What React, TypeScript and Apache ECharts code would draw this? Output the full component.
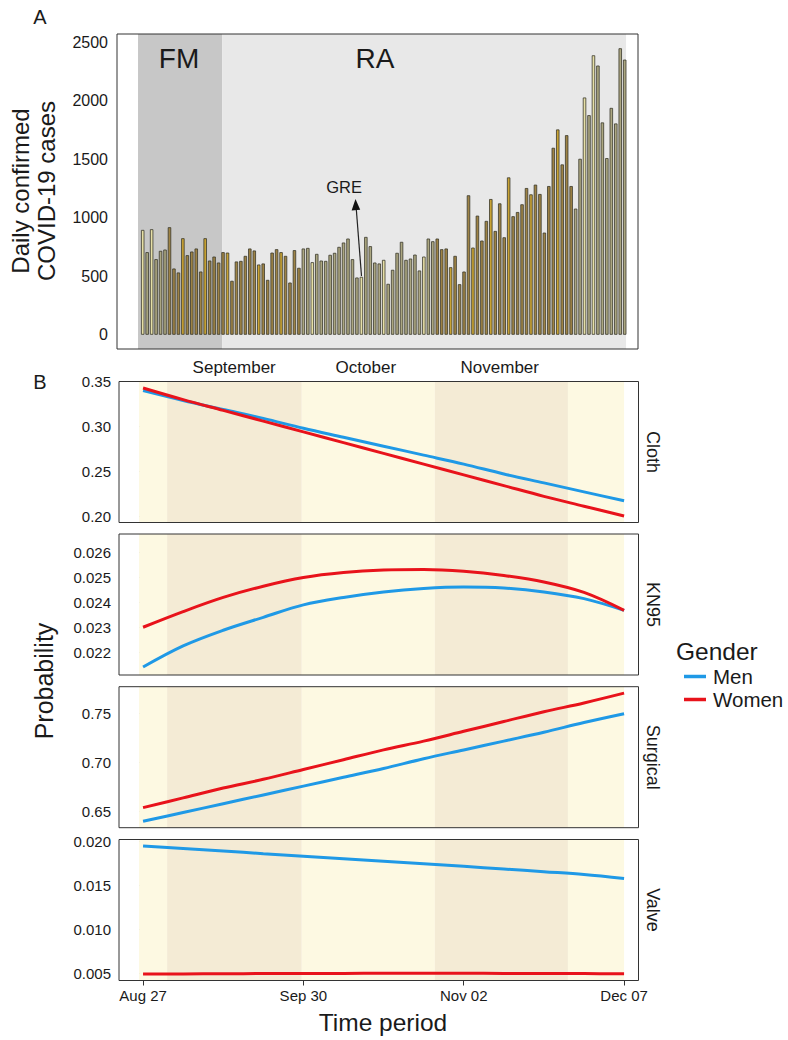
import React, { useEffect, useRef } from "react";
import * as echarts from "echarts";

const FONT = "'Liberation Sans', Arial, Helvetica, sans-serif";

// ---------- Panel A data ----------
// Daily confirmed cases, one bar per day starting Aug 27 (day index 0)
const dailyCases = [
  896, 706, 902, 646, 717, 728, 919, 566, 532, 825,
  680, 711, 737, 540, 825, 634, 668, 617, 706, 702,
  461, 626, 631, 674, 737, 720, 600, 609, 469, 702,
  731, 706, 674, 446, 723, 572, 737, 742, 620, 691,
  634, 631, 683, 700, 751, 788, 822, 646, 489, 495,
  836, 757, 617, 609, 640, 435, 555, 700, 794, 640,
  651, 685, 549, 668, 822, 799, 822, 731, 737, 577,
  674, 432, 540, 1192, 745, 1018, 805, 973, 1160, 887,
  1123, 833, 1345, 1013, 1049, 1115, 1254, 1200, 1283, 1203,
  873, 1271, 1598, 1755, 1456, 1706, 1271, 1078, 1504, 2028,
  1877, 2389, 2301, 1815, 1510, 1939, 1806, 2449, 2352,
];
// shade class of each bar: p = pale, o = olive, b = brown, g = gold
const barShades =
  "popooo" +
  "bbbgbbbbgbbbbgbbbbbbgbbbbgbbbb" +
  "oopoooooooooopoooopoooooooopoo" +
  "bbbgbbbbgbbbgbbbgbbbbgbbbbbgbbb" +
  "oopopooooooo";
const yTicksA = [0, 500, 1000, 1500, 2000, 2500];
const monthStartDays = [5, 35, 66, 96]; // Sep 1, Oct 1, Nov 1, Dec 1
const monthLabelDays = [20.5, 50, 80];
const monthNames = ["September", "October", "November"];
const phaseNames = ["FM", "RA"];
const phaseStart = [-1.05, 17.8];
const phaseEnd = [17.8, 108.3];

// ---------- Panel B data ----------
const periodTicks = [0, 1, 2, 3];
const periodLabels = ["Aug 27", "Sep 30", "Nov 02", "Dec 07"];
const sampleX = [0, 0.25, 0.5, 0.75, 1, 1.25, 1.5, 1.75, 2, 2.25, 2.5, 2.75, 3];
const bandEdges = [-0.025, 0.15, 0.99, 1.82, 2.65, 3.0];

const facetNames = ["Cloth", "KN95", "Surgical", "Valve"];
const clothMen = [0.340, 0.329, 0.319, 0.309, 0.298, 0.288, 0.278, 0.268, 0.258, 0.247, 0.237, 0.227, 0.217];
const clothWomen = [0.343, 0.330, 0.318, 0.306, 0.294, 0.282, 0.270, 0.258, 0.246, 0.234, 0.222, 0.211, 0.200];
const kn95Men = [0.02140, 0.02225, 0.02288, 0.02340, 0.02390, 0.02420, 0.02442, 0.02456, 0.02462, 0.02458, 0.02442, 0.02415, 0.02368];
const kn95Women = [0.02300, 0.02363, 0.02420, 0.02465, 0.02500, 0.02520, 0.02530, 0.02532, 0.02525, 0.02508, 0.02482, 0.02440, 0.02368];
const surgicalMen = [0.640, 0.649, 0.658, 0.667, 0.676, 0.685, 0.694, 0.704, 0.713, 0.722, 0.731, 0.741, 0.750];
const surgicalWomen = [0.654, 0.664, 0.674, 0.683, 0.693, 0.703, 0.713, 0.722, 0.732, 0.742, 0.752, 0.761, 0.771];
const valveMen = [0.01950, 0.01921, 0.01892, 0.01862, 0.01833, 0.01804, 0.01775, 0.01746, 0.01717, 0.01687, 0.01656, 0.01625, 0.01580];
const valveWomen = [0.00490, 0.00492, 0.00494, 0.00496, 0.00497, 0.00498, 0.00499, 0.00499, 0.00499, 0.00498, 0.00497, 0.00496, 0.00494];

const clothTicks = [0.20, 0.25, 0.30, 0.35];
const kn95Ticks = [0.022, 0.023, 0.024, 0.025, 0.026];
const surgicalTicks = [0.65, 0.70, 0.75];
const valveTicks = [0.005, 0.010, 0.015, 0.020];

function buildOption() {
  const shadeColor: Record<string, string> = {
    p: "#e6dfa6",
    o: "#aca781",
    b: "#9e8345",
    g: "#c9a334",
  };
  const BLUE = "#1f99e6";
  const RED = "#e8131b";
  const AX = "#333333";
  const TXT = "#1a1a1a";

  const facetMen = [clothMen, kn95Men, surgicalMen, valveMen];
  const facetWomen = [clothWomen, kn95Women, surgicalWomen, valveWomen];
  const facetTicks = [clothTicks, kn95Ticks, surgicalTicks, valveTicks];
  const facetDigits = [2, 3, 2, 3];
  const facetRange = [
    [0.1928, 0.3502],
    [0.02108, 0.02675],
    [0.6335, 0.7776],
    [0.00417, 0.02023],
  ];
  const facetTops = [381.5, 534, 686.7, 839.5];
  const facetH = 141;
  const gridBaseB = { left: 119, width: 519.5, height: facetH };
  const frame = {
    show: true,
    z: 10,
    backgroundColor: "rgba(0,0,0,0)",
    borderColor: AX,
    borderWidth: 1,
  };

  const grids: any[] = [
    { ...frame, left: 117, top: 34, width: 521, height: 315 },
    ...facetTops.map((t) => ({ ...frame, ...gridBaseB, top: t })),
  ];

  const xAxes: any[] = [
    {
      gridIndex: 0,
      type: "value",
      min: -5.76,
      max: 110.98,
      axisLine: { show: false },
      splitLine: { show: false },
      axisTick: {
        show: true,
        customValues: monthStartDays,
        length: 5,
        lineStyle: { color: AX, width: 1 },
      },
      axisLabel: {
        show: true,
        customValues: monthLabelDays,
        formatter: (v: number) => monthNames[monthLabelDays.indexOf(v)] ?? "",
        fontSize: 17,
        fontFamily: FONT,
        color: TXT,
        margin: 10,
      },
    },
  ];
  const yAxes: any[] = [
    {
      gridIndex: 0,
      type: "value",
      min: -122,
      max: 2571,
      axisLine: { show: false },
      splitLine: { show: false },
      axisTick: {
        show: true,
        customValues: yTicksA,
        length: 4,
        lineStyle: { color: AX, width: 1 },
      },
      axisLabel: {
        show: true,
        customValues: yTicksA,
        formatter: (v: number) => String(v),
        fontSize: 16,
        fontFamily: FONT,
        color: TXT,
        margin: 9,
      },
    },
  ];

  facetNames.forEach((_, i) => {
    const last = i === facetNames.length - 1;
    xAxes.push({
      gridIndex: i + 1,
      type: "value",
      min: -0.15,
      max: 3.09,
      axisLine: { show: false },
      splitLine: { show: false },
      axisTick: {
        show: last,
        customValues: periodTicks,
        length: 5,
        lineStyle: { color: AX, width: 1 },
      },
      axisLabel: {
        show: last,
        customValues: periodTicks,
        formatter: (v: number) => periodLabels[periodTicks.indexOf(v)] ?? "",
        fontSize: 15,
        fontFamily: FONT,
        color: TXT,
        margin: 7,
      },
    });
    const ticks = facetTicks[i];
    yAxes.push({
      gridIndex: i + 1,
      type: "value",
      min: facetRange[i][0],
      max: facetRange[i][1],
      axisLine: { show: false },
      splitLine: { show: false },
      axisTick: {
        show: true,
        customValues: ticks,
        length: 4,
        lineStyle: { color: AX, width: 1 },
      },
      axisLabel: {
        show: true,
        customValues: ticks,
        formatter: (v: number) => v.toFixed(facetDigits[i]),
        fontSize: 15,
        fontFamily: FONT,
        color: TXT,
        margin: 8,
      },
    });
  });

  const bandAreas: any[] = [];
  for (let k = 0; k < bandEdges.length - 1; k++) {
    bandAreas.push([
      { xAxis: bandEdges[k], itemStyle: { color: k % 2 === 0 ? "#fdf9e2" : "#f4ebd5" } },
      { xAxis: bandEdges[k + 1] },
    ]);
  }

  const series: any[] = [
    {
      type: "bar",
      name: "cases",
      xAxisIndex: 0,
      yAxisIndex: 0,
      barWidth: 3.4,
      data: dailyCases.map((v, i) => ({
        value: [i, v],
        itemStyle: {
          color: shadeColor[barShades[i]] || shadeColor.b,
          borderColor: "#3a382c",
          borderWidth: 0.8,
        },
      })),
      markArea: {
        silent: true,
        z: 1,
        data: phaseNames.map((_, k) => [
          { xAxis: phaseStart[k], itemStyle: { color: k === 0 ? "#c7c7c7" : "#e8e8e8" } },
          { xAxis: phaseEnd[k] },
        ]),
      },
    },
  ];

  facetNames.forEach((_, i) => {
    series.push({
      type: "line",
      name: "Men",
      xAxisIndex: i + 1,
      yAxisIndex: i + 1,
      showSymbol: false,
      smooth: 0.35,
      lineStyle: { width: 3, color: BLUE },
      itemStyle: { color: BLUE },
      z: 3,
      data: sampleX.map((x, k) => [x, facetMen[i][k]]),
      markArea: { silent: true, z: 1, data: bandAreas },
    });
    series.push({
      type: "line",
      name: "Women",
      xAxisIndex: i + 1,
      yAxisIndex: i + 1,
      showSymbol: false,
      smooth: 0.35,
      lineStyle: { width: 3, color: RED },
      itemStyle: { color: RED },
      z: 4,
      data: sampleX.map((x, k) => [x, facetWomen[i][k]]),
    });
  });

  const txt = (text: string, x: number, y: number, size: number, extra: any = {}) => ({
    type: "text",
    x,
    y,
    z: 20,
    ...extra,
    style: {
      text,
      fontSize: size,
      fontFamily: FONT,
      fill: TXT,
      align: "center",
      verticalAlign: "middle",
      ...(extra.style || {}),
    },
  });

  const graphics: any[] = [
    txt("A", 40, 17, 20),
    txt("B", 40, 382, 20),
    txt(phaseNames[0], 179, 58, 28),
    txt(phaseNames[1], 375, 58, 28),
    txt("GRE", 344, 187, 16.5),
    {
      type: "line",
      z: 20,
      shape: { x1: 361.5, y1: 276, x2: 356.2, y2: 208 },
      style: { stroke: "#222", lineWidth: 1.2 },
    },
    {
      type: "polygon",
      z: 20,
      shape: { points: [[355.5, 199], [351.6, 210.4], [360.2, 209.8]] },
      style: { fill: "#111" },
    },
    txt("Daily confirmed\nCOVID-19 cases", 33, 191, 24, {
      rotation: Math.PI / 2,
      style: { lineHeight: 26 },
    }),
    txt("Probability", 44, 681, 25, { rotation: Math.PI / 2 }),
    txt("Time period", 383, 1022, 24.5),
    txt("Gender", 676, 651, 24.5, { style: { align: "left" } }),
  ];
  facetNames.forEach((n, i) => {
    graphics.push(
      txt(n, 653, facetTops[i] + facetH / 2, 18, { rotation: -Math.PI / 2 })
    );
  });

  return {
    animation: false,
    backgroundColor: "#ffffff",
    textStyle: { fontFamily: FONT },
    grid: grids,
    xAxis: xAxes,
    yAxis: yAxes,
    series,
    legend: {
      data: ["Men", "Women"],
      orient: "vertical",
      left: 679,
      top: 661,
      icon: "rect",
      itemWidth: 22,
      itemHeight: 3.5,
      itemGap: 2,
      selectedMode: false,
      textStyle: { fontSize: 20.5, fontFamily: FONT, color: TXT, padding: [0, 0, 0, 2] },
    },
    graphic: graphics,
  };
}

export default function App() {
  const ref = useRef<HTMLDivElement>(null);
  useEffect(() => {
    if (!ref.current) return;
    const chart = echarts.init(ref.current, null, { renderer: "svg" });
    chart.setOption(buildOption() as any);
    return () => chart.dispose();
  }, []);
  return (
    <div
      ref={ref}
      style={{
        position: "absolute",
        left: 0,
        top: 0,
        width: 788,
        height: 1040,
        background: "#ffffff",
      }}
    />
  );
}
